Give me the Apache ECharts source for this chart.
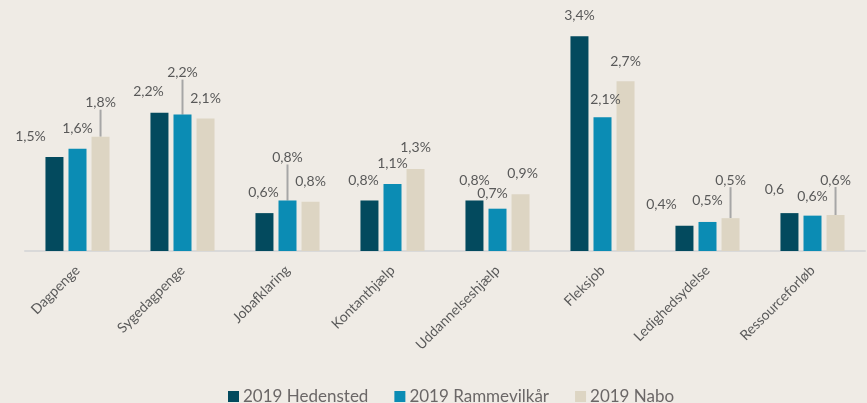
<!DOCTYPE html>
<html>
<head>
<meta charset="utf-8">
<script src="https://cdn.jsdelivr.net/npm/echarts@6/dist/echarts.min.js"></script>
<style>
  html, body { margin: 0; padding: 0; background: #efebe5; }
  #chart { width: 867px; height: 403px; }
</style>
</head>
<body>
<div id="chart"></div>
<script>
// data
var categories = ['Dagpenge', 'Sygedagpenge', 'Jobafklaring', 'Kontanthjælp',
                  'Uddannelseshjælp', 'Fleksjob', 'Ledighedsydelse', 'Ressourceforløb'];
var seriesNames = ['2019 Hedensted', '2019 Rammevilkår', '2019 Nabo'];
var hedensted   = [1.49, 2.19, 0.60, 0.80, 0.80, 3.40, 0.40, 0.60];
var rammevilkar = [1.62, 2.16, 0.80, 1.06, 0.67, 2.12, 0.46, 0.56];
var nabo        = [1.81, 2.10, 0.78, 1.30, 0.90, 2.69, 0.52, 0.57];
// label shown without the % sign in the source: [series, index]
var plainLabels = [[0, 7]];

// label nudges (dx, dy) from the default top position, and which ones get a leader line
var nudges = [
  [[-24, 0], [-11, -1], [-1, -1], [-6, 0], [0, 0], [0, -1], [-23, -1], [-15, -4]],
  [[0, 0], [0, -22], [0, -23], [0, -1], [-5, 5], [3, 2], [0, -1], [0, 1]],
  [[0, -14], [0, 0], [0, 0], [0, -1], [2, -1], [0, 0], [0, -18], [0, -15]]
];
var leaders = [[], [1, 2], [0, 6, 7]];

var colors = ['#034a5e', '#0b8cb4', '#ddd5c3'];
var textColor = '#595959';
var font = 'Lato';

var chart = echarts.init(document.getElementById('chart'));

function isPlain(s, i) {
  return plainLabels.some(function (p) { return p[0] === s && p[1] === i; });
}

function makeSeries(name, values, s) {
  return {
    name: name,
    type: 'bar',
    barWidth: 18,
    barGap: '28%',
    itemStyle: { color: colors[s] },
    label: {
      show: true,
      position: 'top',
      distance: 13,
      color: textColor,
      fontFamily: font,
      fontSize: 14,
      formatter: function (p) {
        var txt = p.value.toFixed(1).replace('.', ',');
        return isPlain(s, p.dataIndex) ? txt : txt + '%';
      }
    },
    labelLine: { show: false, lineStyle: { color: '#a6a6a6', width: 2 } },
    labelLayout: function (p) {
      var n = nudges[s][p.dataIndex];
      return { dx: n[0], dy: n[1] };
    },
    data: values.map(function (v, i) {
      if (leaders[s].indexOf(i) >= 0) {
        return { value: v, labelLine: { show: true } };
      }
      return v;
    })
  };
}

chart.setOption({
  backgroundColor: '#efebe5',
  animation: false,
  grid: { left: 25, right: 2, top: 30, bottom: 152 },
  legend: {
    top: 383,
    left: 223,
    itemWidth: 11,
    itemHeight: 11,
    itemGap: 26,
    icon: 'rect',
    textStyle: { color: '#6b6767', fontFamily: font, fontSize: 17, padding: [0, 0, 0, -1] },
    data: seriesNames
  },
  xAxis: {
    type: 'category',
    data: categories,
    axisLine: { lineStyle: { color: '#d9d9d9', width: 2 } },
    axisTick: { show: false },
    axisLabel: {
      rotate: 45,
      interval: 0,
      margin: 17,
      color: textColor,
      fontFamily: font,
      fontSize: 14
    }
  },
  yAxis: {
    type: 'value',
    min: 0,
    max: 3.5,
    show: false,
    splitLine: { show: false }
  },
  series: [
    makeSeries(seriesNames[0], hedensted, 0),
    makeSeries(seriesNames[1], rammevilkar, 1),
    makeSeries(seriesNames[2], nabo, 2)
  ]
});
</script>
</body>
</html>
